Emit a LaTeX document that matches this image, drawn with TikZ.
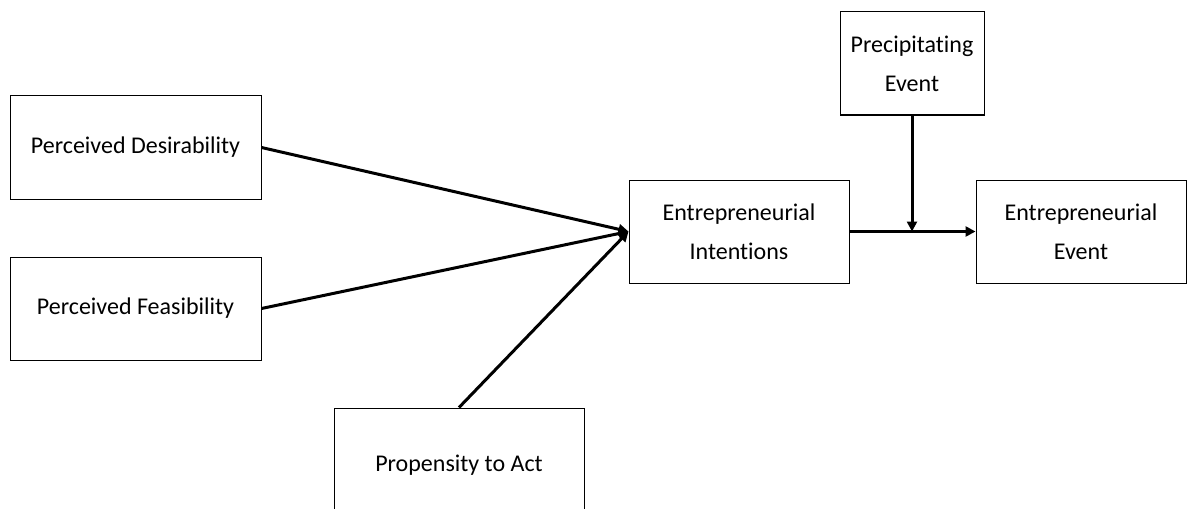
\documentclass[tikz,border=0pt]{standalone}
\usepackage{fontspec}
\setmainfont{Carlito}[Ligatures=NoCommon]
\usepackage{tikz}
\usetikzlibrary{arrows.meta, positioning}

\begin{document}
\begin{tikzpicture}[
    x=0.5pt, y=-0.5pt,
    box/.style={rectangle, draw=black, line width=0.5pt, minimum height=51.5pt, align=center, inner sep=2pt, font=\fontsize{12}{19.5}\selectfont},
    arrow/.style={-{Triangle[length=5pt, width=5pt]}, line width=1.5pt}
]
\useasboundingbox (0,0) rectangle (1187,508);

\node[box, minimum width=125.5pt] (desir) at (135.5,147.5) {Perceived Desirability};
\node[box, minimum width=125.5pt] (feas) at (135.5,308.5) {Perceived Feasibility};
\node[box, minimum width=125pt, minimum height=57pt] (prop) at (459,465) {Propensity to Act};
\node[box, minimum width=110pt] (intent) at (739,231.5) {Entrepreneurial\\Intentions};
\node[box, minimum width=72pt] (precip) at (912,63.5) {Precipitating\\Event};
\node[box, minimum width=105pt] (event) at (1081,231.5) {Entrepreneurial\\Event};

\coordinate (junc) at (precip.south |- intent.east);

\draw[arrow] (desir.east) -- (intent.west);
\draw[arrow] (feas.east) -- (intent.west);
\draw[arrow] (prop.north) -- (intent.west);
\draw[arrow] (intent.east) -- (event.west);
\draw[arrow] (precip.south) -- (junc);
\end{tikzpicture}
\end{document}
